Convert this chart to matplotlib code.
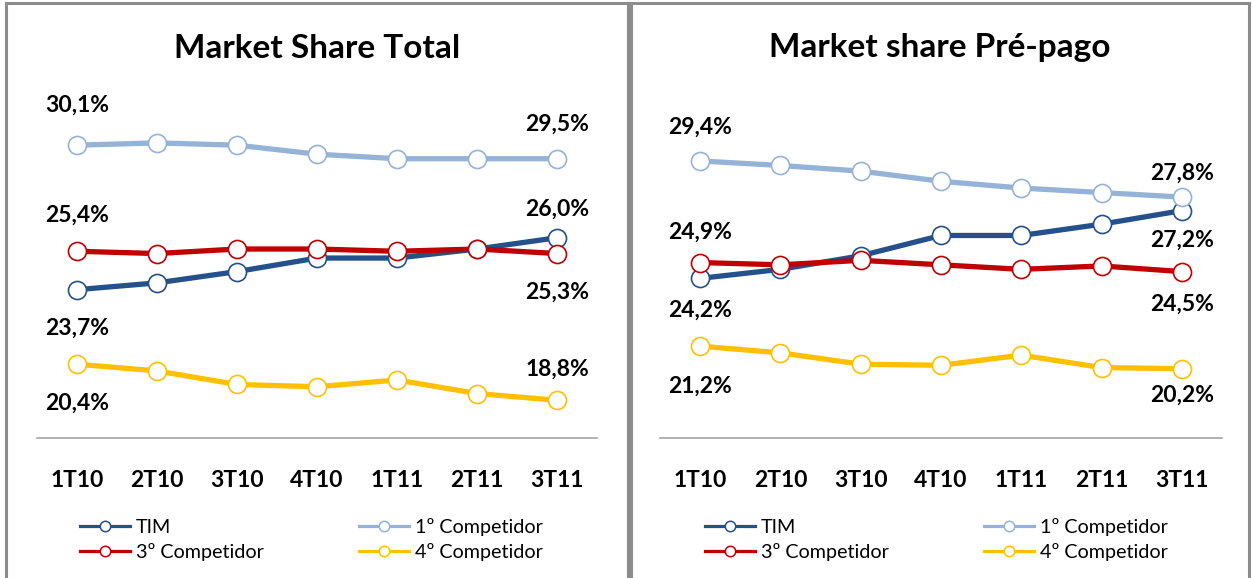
import matplotlib
matplotlib.use("Agg")
import matplotlib.pyplot as plt
from matplotlib.lines import Line2D
from matplotlib.patches import Rectangle

W, H = 1252, 578

quarters = ["1T10", "2T10", "3T10", "4T10", "1T11", "2T11", "3T11"]
series_names = ["TIM", "1º Competidor", "3º Competidor", "4º Competidor"]
colors = ["#24508C", "#95B3D7", "#C00000", "#FFC000"]

total_tim = [23.7, 24.0, 24.5, 25.1, 25.1, 25.5, 26.0]
total_c1 = [30.1, 30.2, 30.1, 29.7, 29.5, 29.5, 29.5]
total_c3 = [25.4, 25.3, 25.5, 25.5, 25.4, 25.5, 25.3]
total_c4 = [20.4, 20.1, 19.5, 19.4, 19.7, 19.1, 18.8]

pre_tim = [24.2, 24.6, 25.2, 26.1, 26.1, 26.6, 27.2]
pre_c1 = [29.4, 29.2, 28.95, 28.5, 28.2, 28.0, 27.8]
pre_c3 = [24.9, 24.8, 25.0, 24.8, 24.6, 24.75, 24.5]
pre_c4 = [21.2, 20.9, 20.4, 20.35, 20.8, 20.25, 20.2]

titles = ["Market Share Total", "Market share Pré-pago"]

# label offsets (pixels) for first / last point of each series
total_offsets = {"first": [-39, 40, 36, -39], "last": [29, 35, -39, 31]}
pre_offsets = {"first": [-32, 34, 30, -40], "last": [-30, 24, -33, -27]}

plt.rcParams["font.family"] = ["Lato", "DejaVu Sans"]

fig = plt.figure(figsize=(W / 100, H / 100), dpi=100)


def fx(x):
    return x / W


def fy(y):
    return 1 - y / H


def draw_panel(left, right, axl, axr, title, data, offsets):
    # panel frame
    fig.patches.append(Rectangle((fx(left), fy(H + 10)), fx(right - left), fy(3) - fy(H + 10),
                                 transform=fig.transFigure, fill=False,
                                 edgecolor="#8C8C8C", linewidth=2.2))
    fig.text(fx((left + right) / 2), fy(48), title, ha="center", va="center",
             fontsize=24, fontweight="bold")

    ax = fig.add_axes([fx(axl), fy(438), fx(axr - axl), fy(100) - fy(438)])
    x = list(range(len(quarters)))
    for vals, col, off_f, off_l in zip(data, colors, offsets["first"], offsets["last"]):
        ax.plot(x, vals, color=col, linewidth=3.8, marker="o", markersize=13,
                markerfacecolor="white", markeredgecolor=col, markeredgewidth=1.2,
                solid_capstyle="round")
        ax.annotate(f"{vals[0]:.1f}%".replace(".", ","), (x[0], vals[0]),
                    xytext=(0, off_f), textcoords="offset pixels",
                    ha="center", va="center", fontsize=16.5, fontweight="bold")
        ax.annotate(f"{vals[-1]:.1f}%".replace(".", ","), (x[-1], vals[-1]),
                    xytext=(0, off_l), textcoords="offset pixels",
                    ha="center", va="center", fontsize=16.5, fontweight="bold")

    ax.set_xlim(-0.5, 6.5)
    ax.set_ylim(17.13, 32.1)
    ax.set_xticks(x)
    ax.set_xticklabels(quarters, fontsize=16.5, fontweight="bold")
    ax.tick_params(axis="x", length=0, pad=23)
    ax.set_yticks([])
    for s in ["top", "left", "right"]:
        ax.spines[s].set_visible(False)
    ax.spines["bottom"].set_color("#A6A6A6")
    ax.spines["bottom"].set_linewidth(1.2)
    ax.patch.set_alpha(0)

    handles = [Line2D([], [], color=c, linewidth=2.3, marker="o", markersize=7.5,
                      markerfacecolor="white", markeredgecolor=c, markeredgewidth=1.1)
               for c in colors]
    order = [0, 2, 1, 3]
    ax.legend([handles[i] for i in order], [series_names[i] for i in order],
              ncol=2, loc="upper left", bbox_to_anchor=(fx(left + 64), fy(508)),
              bbox_transform=fig.transFigure, frameon=False, fontsize=14.2,
              handlelength=2.55, handletextpad=0.3, columnspacing=4.8,
              labelspacing=0.38, borderpad=0)


draw_panel(6, 628, 37, 597, titles[0], [total_tim, total_c1, total_c3, total_c4], total_offsets)
draw_panel(631, 1249, 660, 1222, titles[1], [pre_tim, pre_c1, pre_c3, pre_c4], pre_offsets)

fig.savefig("out.png", dpi=100)
